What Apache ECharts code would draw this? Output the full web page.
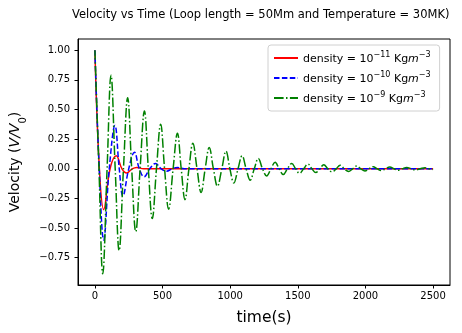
<!DOCTYPE html>
<html>
<head>
<meta charset="utf-8">
<script src="https://cdn.jsdelivr.net/npm/echarts@6/dist/echarts.min.js"></script>
<style>
  html, body { margin: 0; padding: 0; background: #fff; }
  #main { width: 462px; height: 333px; }
</style>
</head>
<body>
<div id="main"></div>
<script>
// values (extrema and zero crossings)
var redT = [0, 33, 65, 112, 158, 200, 235, 275, 310, 360, 2500];
var redV = [1, 0, -0.345, 0, 0.11, 0, -0.035, 0, 0.012, 0, 0];

var blueT = [0, 32, 65, 106, 148, 180, 207, 250, 292, 328, 364, 405, 448, 490, 530, 570, 610, 660, 2500];
var blueV = [1, 0, -0.60, 0, 0.366, 0, -0.23, 0, 0.14, 0, -0.068, 0, 0.045, 0, -0.02, 0, 0.012, 0, 0];

var greenT = [0, 30, 58, 90, 119, 150, 179, 211, 242, 272, 302, 334, 366, 395, 424, 455, 486, 515, 545, 578,
  610, 638, 666, 695, 724, 755, 785, 815, 845, 876, 906, 938, 969, 998, 1027, 1058, 1088, 1118, 1148, 1178,
  1208, 1239, 1270, 1301, 1332, 1362, 1392, 1423, 1455, 1484, 1512, 1543, 1575, 1604, 1633, 1662, 1692, 1722,
  1753, 1783, 1813, 1844, 1875, 1905, 1936, 1966, 1996, 2026, 2057, 2087, 2117, 2148, 2180, 2210, 2240, 2272,
  2305, 2338, 2370, 2405, 2440, 2468, 2500];
var greenV = [1, 0, -0.885, 0, 0.79, 0, -0.69, 0, 0.60, 0, -0.53, 0, 0.487, 0, -0.42, 0, 0.375, 0, -0.34, 0,
  0.30, 0, -0.26, 0, 0.215, 0, -0.20, 0, 0.18, 0, -0.147, 0, 0.149, 0, -0.12, 0, 0.11, 0, -0.096, 0,
  0.088, 0, -0.06, 0, 0.055, 0, -0.048, 0, 0.045, 0, -0.038, 0, 0.04, 0, -0.032, 0, 0.035, 0,
  -0.026, 0, 0.03, 0, -0.022, 0, 0.024, 0, -0.018, 0, 0.018, 0, -0.015, 0, 0.015, 0, -0.012, 0,
  0.012, 0, -0.01, 0, 0.01, 0, -0.005];

var xTicks = [0, 500, 1000, 1500, 2000, 2500];
var yTicks = [-0.75, -0.5, -0.25, 0, 0.25, 0.5, 0.75, 1.0];

var names = ['d11', 'd10', 'd9'];
var exps = ['\u221211', '\u221210', '\u22129'];

function pairs(t, v) {
  var out = [];
  for (var i = 0; i < t.length; i++) out.push([t[i], v[i]]);
  return out;
}

var font = 'DejaVu Sans';
var chart = echarts.init(document.getElementById('main'));
chart.setOption({
  animation: false,
  textStyle: { fontFamily: font, color: '#000' },
  title: {
    text: 'Velocity vs Time (Loop length = 50Mm and Temperature = 30MK)',
    left: 67, top: 4,
    textStyle: { fontFamily: font, fontSize: 11.5, fontWeight: 'normal', color: '#000' }
  },
  grid: {
    left: 72, top: 39, right: 12, bottom: 48,
    show: true, borderColor: '#000', borderWidth: 1, backgroundColor: '#fff'
  },
  legend: {
    orient: 'vertical',
    left: 268, top: 45,
    padding: [6, 9, 6, 5],
    itemGap: 6,
    itemWidth: 24, itemHeight: 14,
    backgroundColor: '#fff',
    borderColor: '#d0d0d0', borderWidth: 1, borderRadius: 3,
    itemStyle: { opacity: 0 },
    data: names,
    formatter: function (name) {
      var i = names.indexOf(name);
      return '{a|density = 10}{s|' + exps[i] + '}{a| Kg}{i|m}{s|\u22123}';
    },
    textStyle: {
      fontFamily: font, fontSize: 11, color: '#000',
      rich: {
        a: { fontFamily: font, fontSize: 11, lineHeight: 14, verticalAlign: 'bottom' },
        i: { fontFamily: font, fontSize: 11, fontStyle: 'italic', lineHeight: 14, verticalAlign: 'bottom' },
        s: { fontFamily: font, fontSize: 8, lineHeight: 14, verticalAlign: 'top' }
      }
    }
  },
  xAxis: {
    type: 'value',
    min: -125, max: 2625,
    name: 'time(s)',
    nameLocation: 'middle',
    nameGap: 25,
    nameTextStyle: { fontFamily: font, fontSize: 15.5, color: '#000' },
    axisLine: { onZero: false, lineStyle: { color: '#000', width: 1 } },
    axisTick: { show: true, length: 3.5, customValues: xTicks, lineStyle: { color: '#000' } },
    axisLabel: {
      customValues: xTicks, margin: 6, fontSize: 10, color: '#000', fontFamily: font,
      formatter: function (v) { return String(v); }
    },
    splitLine: { show: false }
  },
  yAxis: {
    type: 'value',
    min: -0.98, max: 1.095,
    name: '{n|Velocity (}{i|V/V}{b|0}{n|)}',
    nameLocation: 'middle',
    nameGap: 50,
    nameRotate: 90,
    nameTextStyle: {
      fontFamily: font, fontSize: 14, color: '#000',
      rich: {
        n: { fontFamily: font, fontSize: 14, lineHeight: 20, verticalAlign: 'top' },
        i: { fontFamily: font, fontSize: 14, fontStyle: 'italic', lineHeight: 20, verticalAlign: 'top' },
        b: { fontFamily: font, fontSize: 10, lineHeight: 20, verticalAlign: 'bottom' }
      }
    },
    axisLine: { show: true, onZero: false, lineStyle: { color: '#000', width: 1 } },
    axisTick: { show: true, length: 3.5, customValues: yTicks, lineStyle: { color: '#000' } },
    axisLabel: {
      customValues: yTicks, margin: 8, fontSize: 10, color: '#000', fontFamily: font,
      formatter: function (v) { return v.toFixed(2).replace('-', '\u2212'); }
    },
    splitLine: { show: false }
  },
  series: [
    {
      name: 'd11', type: 'line', symbol: 'none', smooth: 0.4,
      data: pairs(redT, redV),
      lineStyle: { color: '#ff0000', width: 1.5, type: 'solid' },
      itemStyle: { color: '#ff0000' }
    },
    {
      name: 'd10', type: 'line', symbol: 'none', smooth: 0.4,
      data: pairs(blueT, blueV),
      lineStyle: { color: '#0000ff', width: 1.5, type: [5.5, 2.4] },
      itemStyle: { color: '#0000ff' }
    },
    {
      name: 'd9', type: 'line', symbol: 'none', smooth: 0.4,
      data: pairs(greenT, greenV),
      lineStyle: { color: '#008000', width: 1.5, type: [9.6, 2.4, 1.5, 2.4] },
      itemStyle: { color: '#008000' }
    }
  ]
});
</script>
</body>
</html>
